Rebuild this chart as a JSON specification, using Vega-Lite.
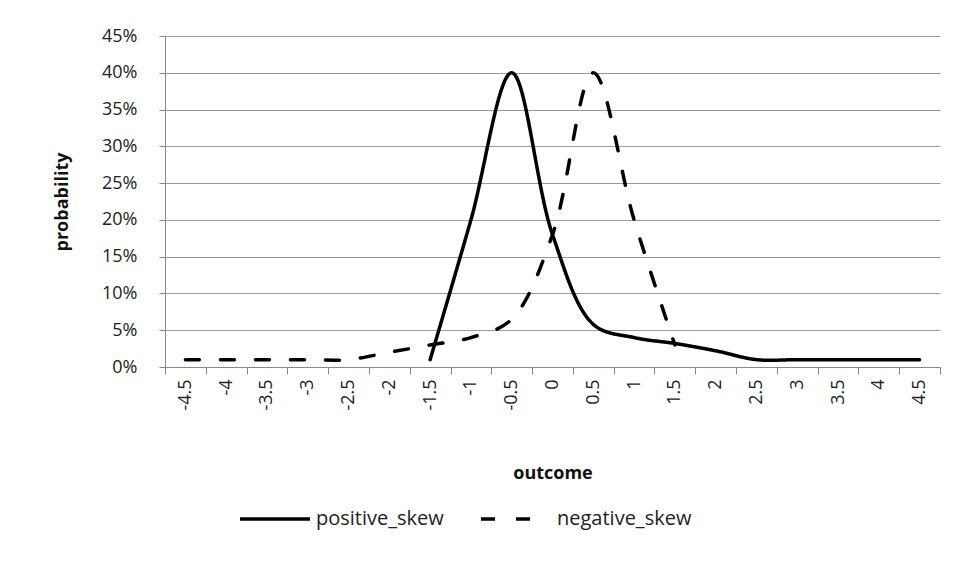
{
  "$schema": "https://vega.github.io/schema/vega-lite/v6.json",
  "width": 775,
  "height": 331,
  "autosize": {"type": "none"},
  "padding": {"left": 165, "top": 36, "right": 16, "bottom": 211},
  "background": "white",
  "config": {
    "font": "Open Sans",
    "view": {"stroke": null},
    "axis": {"labelFont": "Open Sans", "titleFont": "Open Sans", "labelColor": "#222", "titleColor": "#111"}
  },
  "data": {
    "values": [
      {"outcome": -4.5, "series": "negative_skew", "probability": 0.01},
      {"outcome": -4, "series": "negative_skew", "probability": 0.01},
      {"outcome": -3.5, "series": "negative_skew", "probability": 0.01},
      {"outcome": -3, "series": "negative_skew", "probability": 0.01},
      {"outcome": -2.5, "series": "negative_skew", "probability": 0.01},
      {"outcome": -2, "series": "negative_skew", "probability": 0.02},
      {"outcome": -1.5, "series": "negative_skew", "probability": 0.03},
      {"outcome": -1, "series": "negative_skew", "probability": 0.04},
      {"outcome": -0.5, "series": "negative_skew", "probability": 0.065},
      {"outcome": 0, "series": "negative_skew", "probability": 0.18},
      {"outcome": 0.5, "series": "negative_skew", "probability": 0.4},
      {"outcome": 1, "series": "negative_skew", "probability": 0.2},
      {"outcome": 1.5, "series": "negative_skew", "probability": 0.03},
      {"outcome": -1.5, "series": "positive_skew", "probability": 0.01},
      {"outcome": -1, "series": "positive_skew", "probability": 0.2},
      {"outcome": -0.5, "series": "positive_skew", "probability": 0.4},
      {"outcome": 0, "series": "positive_skew", "probability": 0.18},
      {"outcome": 0.5, "series": "positive_skew", "probability": 0.058},
      {"outcome": 1, "series": "positive_skew", "probability": 0.04},
      {"outcome": 1.5, "series": "positive_skew", "probability": 0.032},
      {"outcome": 2, "series": "positive_skew", "probability": 0.022},
      {"outcome": 2.5, "series": "positive_skew", "probability": 0.01},
      {"outcome": 3, "series": "positive_skew", "probability": 0.01},
      {"outcome": 3.5, "series": "positive_skew", "probability": 0.01},
      {"outcome": 4, "series": "positive_skew", "probability": 0.01},
      {"outcome": 4.5, "series": "positive_skew", "probability": 0.01}
    ]
  },
  "mark": {"type": "line", "interpolate": "catmull-rom", "strokeWidth": 3.5, "color": "black", "strokeCap": "round"},
  "encoding": {
    "x": {
      "field": "outcome",
      "type": "ordinal",
      "sort": "ascending",
      "bandPosition": 0.5,
      "scale": {"type": "band", "paddingInner": 0, "paddingOuter": 0},
      "axis": {
        "title": "outcome",
        "titleFontSize": 18,
        "titleFontWeight": "bold",
        "titlePadding": 54,
        "labelAngle": -90,
        "labelFontSize": 18,
        "labelPadding": 5,
        "tickBand": "extent",
        "tickSize": 7,
        "tickColor": "#888",
        "domainColor": "#888",
        "grid": false
      }
    },
    "y": {
      "field": "probability",
      "type": "quantitative",
      "scale": {"domain": [0, 0.45]},
      "axis": {
        "title": "probability",
        "titleFontSize": 18,
        "titleFontWeight": "bold",
        "titlePadding": 30,
        "format": ".0%",
        "values": [0, 0.05, 0.1, 0.15, 0.2, 0.25, 0.3, 0.35, 0.4, 0.45],
        "labelFontSize": 18,
        "labelPadding": 22,
        "tickSize": 6,
        "tickColor": "#888",
        "domainColor": "#888",
        "gridColor": "#999",
        "gridWidth": 1.2
      }
    },
    "strokeDash": {
      "field": "series",
      "type": "nominal",
      "scale": {"domain": ["positive_skew", "negative_skew"], "range": [[1, 0], [14, 21]]},
      "legend": {
        "title": null,
        "orient": "none",
        "legendX": 73,
        "legendY": 446,
        "direction": "horizontal",
        "labelFontSize": 20,
        "labelColor": "#222",
        "symbolType": "stroke",
        "symbolStrokeWidth": 3.5,
        "symbolStrokeColor": "black",
        "symbolSize": 4900,
        "columnPadding": 30,
        "labelOffset": 4
      }
    }
  }
}
